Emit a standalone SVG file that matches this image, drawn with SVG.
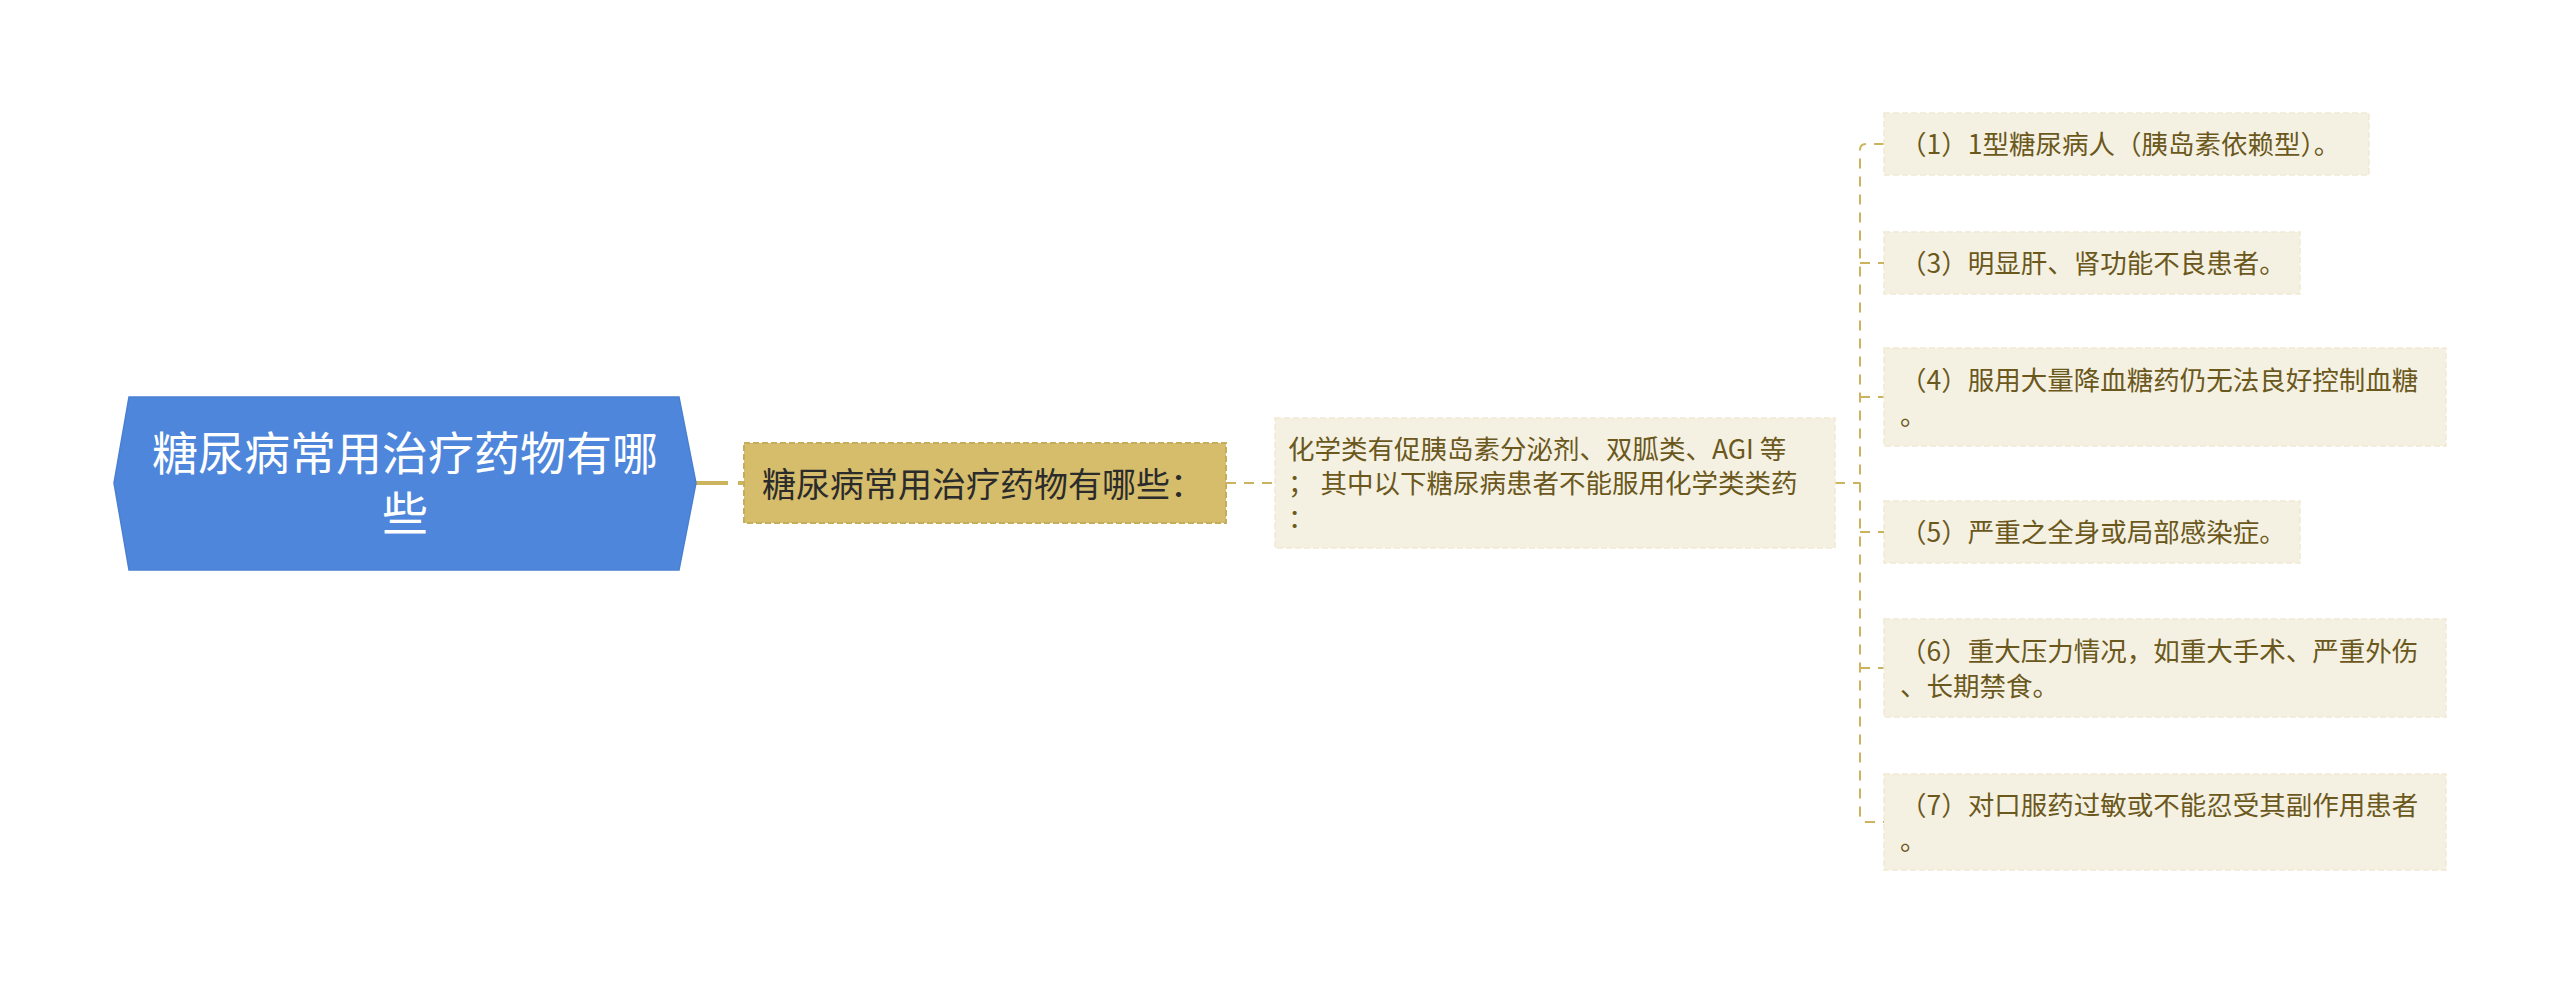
<svg xmlns="http://www.w3.org/2000/svg" width="2560" height="984" viewBox="0 0 2560 984">
<style>
.cjk{font-family:"Noto Sans CJK SC","Noto Sans",sans-serif;}
.root-t{font-size:46px;fill:#ffffff;}
.sub-t{font-size:34px;fill:#2b2b2b;}
.leaf-t{font-size:26.5px;fill:#6b581c;}
.leaf{fill:#f5f1e2;stroke:#f0e9d3;stroke-width:1.5;stroke-dasharray:6 3;}
.conn{fill:none;stroke:#cbb45d;stroke-width:2;stroke-dasharray:10 8;}
</style>
<rect width="2560" height="984" fill="#ffffff"/>
<g id="connectors">
<path d="M696,483 H744" fill="none" stroke="#cbb45d" stroke-width="4" stroke-dasharray="32 10 8"/>
<path class="conn" d="M1226,483 H1275"/>
<path class="conn" d="M1835,483 H1860"/>
<path class="conn" d="M1884,144 H1866 Q1860,144 1860,150 V816 Q1860,822 1866,822 H1884"/>
<path class="conn" d="M1860,263 H1884"/>
<path class="conn" d="M1860,397 H1884"/>
<path class="conn" d="M1860,532 H1884"/>
<path class="conn" d="M1860,668 H1884"/>
</g>
<g id="root">
<polygon points="114,483 129,397 679,397 696,483 679,570 129,570" fill="#4e86db" stroke="#4a80d2" stroke-width="1.5"/>
<text class="cjk root-t" x="405" y="470" text-anchor="middle">糖尿病常用治疗药物有哪</text>
<text class="cjk root-t" x="405" y="530" text-anchor="middle">些</text>
</g>
<g id="sub">
<rect x="744" y="443" width="482" height="80" fill="#d5bd6b" stroke="#c6ad5a" stroke-width="2" stroke-dasharray="6 3"/>
<text class="cjk sub-t" x="762" y="497">糖尿病常用治疗药物有哪些：</text>
</g>
<g id="chem">
<rect x="1275" y="418" width="560" height="130" class="leaf"/>
<text class="cjk leaf-t" x="1288" y="458.5">化学类有促胰岛素分泌剂、双胍类、AGI 等</text>
<text class="cjk leaf-t" x="1288" y="493" xml:space="preserve">； 其中以下糖尿病患者不能服用化学类类药</text>
<text class="cjk leaf-t" x="1288" y="527.5">：</text>
</g>
<g id="leaf1">
<rect x="1884" y="113" width="485" height="62" class="leaf"/>
<text class="cjk leaf-t" x="1900" y="154">（1）1型糖尿病人（胰岛素依赖型）。</text>
</g>
<g id="leaf3">
<rect x="1884" y="232" width="416" height="62" class="leaf"/>
<text class="cjk leaf-t" x="1900" y="273">（3）明显肝、肾功能不良患者。</text>
</g>
<g id="leaf4">
<rect x="1884" y="348" width="562" height="98" class="leaf"/>
<text class="cjk leaf-t" x="1900" y="389.5">（4）服用大量降血糖药仍无法良好控制血糖</text>
<text class="cjk leaf-t" x="1900" y="424.5">。</text>
</g>
<g id="leaf5">
<rect x="1884" y="501" width="416" height="62" class="leaf"/>
<text class="cjk leaf-t" x="1900" y="542">（5）严重之全身或局部感染症。</text>
</g>
<g id="leaf6">
<rect x="1884" y="619" width="562" height="98" class="leaf"/>
<text class="cjk leaf-t" x="1900" y="660.5">（6）重大压力情况，如重大手术、严重外伤</text>
<text class="cjk leaf-t" x="1900" y="695.5">、长期禁食。</text>
</g>
<g id="leaf7">
<rect x="1884" y="774" width="562" height="96" class="leaf"/>
<text class="cjk leaf-t" x="1900" y="814.5">（7）对口服药过敏或不能忍受其副作用患者</text>
<text class="cjk leaf-t" x="1900" y="849.5">。</text>
</g>
</svg>
